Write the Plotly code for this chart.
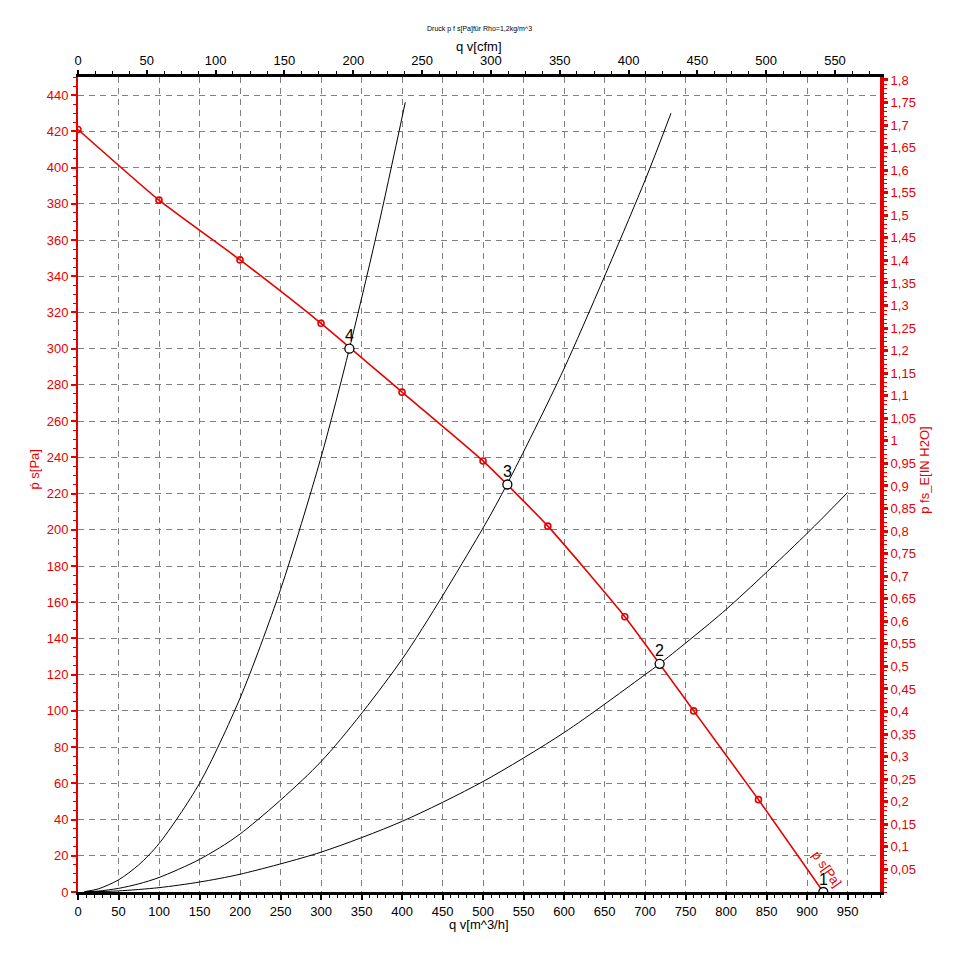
import plotly.graph_objects as go

# ---- data ----
fan_q = [0, 100, 200, 300, 400, 500, 580, 675, 760, 840, 920]
fan_p = [421, 382, 349, 314, 276, 238, 202, 152, 100, 51, 0]

sys4_q = [8, 25, 50, 75, 100, 150, 200, 250, 300, 335, 370, 404]
sys4_p = [0.2, 1.7, 6.7, 15, 26.7, 60, 107, 167, 240, 300, 366, 436]

sys3_q = [8, 25, 50, 75, 100, 150, 200, 300, 400, 500, 530, 600, 700, 732]
sys3_p = [0.1, 0.5, 2, 4.5, 8, 18, 32, 72, 128.5, 201, 225.5, 289, 393, 430]

sys2_q = [8, 50, 100, 150, 200, 300, 400, 500, 600, 700, 718, 800, 900, 950]
sys2_p = [0.02, 0.6, 2.4, 5.5, 9.8, 22, 39, 61, 88, 120, 126, 156, 198, 220.6]

op_q = [920, 718, 530, 335]
op_p = [0, 126, 225, 300]
op_labels = ["1", "2", "3", "4"]

right_tickvals = [round(0.05 * i, 2) for i in range(1, 37)]
right_ticktext = [("%g" % v).replace(".", ",") for v in right_tickvals]

M3H_PER_CFM = 1.69901
PA_PER_INH2O = 249.089
X_MAX = 990
Y_MAX = 450

RED = "rgb(232,0,0)"
FONT = "Liberation Sans, Arial, sans-serif"

fig = go.Figure()

for q, p in [(sys4_q, sys4_p), (sys3_q, sys3_p), (sys2_q, sys2_p)]:
    fig.add_trace(go.Scatter(x=q, y=p, mode="lines", line=dict(color="black", width=1, shape="spline", smoothing=0.8),
                             hoverinfo="skip", showlegend=False))

fig.add_trace(go.Scatter(x=fan_q, y=fan_p, mode="lines", line=dict(color=RED, width=1.6, shape="spline", smoothing=0.5),
                         hoverinfo="skip", showlegend=False))
fig.add_trace(go.Scatter(x=fan_q[:-1], y=fan_p[:-1], mode="markers",
                         marker=dict(symbol="circle-open", size=6, color=RED, line=dict(width=1.6, color=RED)),
                         hoverinfo="skip", showlegend=False))

fig.add_trace(go.Scatter(x=op_q, y=op_p, mode="markers",
                         marker=dict(symbol="circle", size=9, color="white", line=dict(width=1.3, color="black")),
                         hoverinfo="skip", showlegend=False))

# invisible trace to activate secondary axes
fig.add_trace(go.Scatter(x=[0], y=[0], xaxis="x2", yaxis="y2", mode="markers",
                         marker=dict(opacity=0), hoverinfo="skip", showlegend=False))

for q, p, t in zip(op_q, op_p, op_labels):
    fig.add_annotation(x=q, y=p, text=t, showarrow=False, yshift=13,
                       font=dict(family=FONT, size=16, color="black"))

fig.add_annotation(x=fan_q[-1] + 4, y=fan_p[-1] + 13, text="ṕ s[Pa]", showarrow=False, textangle=55,
                   font=dict(family=FONT, size=13, color=RED))

def paper_note(x, y, text, size, color, angle=0):
    fig.add_annotation(xref="paper", yref="paper", x=x, y=y, text=text, showarrow=False,
                       xanchor="center", yanchor="middle", textangle=angle,
                       font=dict(family=FONT, size=size, color=color))

paper_note(0.5, 1.059, "Druck p f s[Pa]für Rho=1,2kg/m^3", 7, "black")
paper_note(0.5, 1.038, "q v[cfm]", 13, "black")
paper_note(0.5, -0.0393, "q v[m^3/h]", 13, "black")
paper_note(-0.054, 0.518, "ṕ s[Pa]", 13, RED, -90)
paper_note(1.056, 0.518, "p fs_E[IN H2O]", 13, RED, -90)

grid = dict(showgrid=True, gridcolor="#808080", gridwidth=1, griddash="6px,5px")

fig.update_layout(
    width=955, height=972,
    margin=dict(l=70, r=83, t=69, b=88),
    paper_bgcolor="white", plot_bgcolor="white",
    font=dict(family=FONT, size=13),
    showlegend=False,
    xaxis=dict(range=[0, X_MAX], tick0=0, dtick=50, ticks="outside", ticklen=5, tickwidth=2, tickcolor="black",
               showline=True, linecolor="black", linewidth=3, zeroline=False, automargin=False,
               tickfont=dict(family=FONT, size=13, color="black"),
               minor=dict(dtick=10, ticks="outside", ticklen=3, tickcolor="black", tickwidth=1, showgrid=False),
               **grid),
    yaxis=dict(range=[0, Y_MAX], tick0=0, dtick=20, ticks="outside", ticklen=5, tickwidth=2, tickcolor=RED,
               showline=True, linecolor=RED, linewidth=2, zeroline=False, automargin=False,
               tickfont=dict(family=FONT, size=13, color=RED),
               minor=dict(dtick=5, ticks="outside", ticklen=3, tickcolor=RED, tickwidth=1, showgrid=False),
               **grid),
    xaxis2=dict(range=[0, X_MAX / M3H_PER_CFM], overlaying="x", side="top", anchor="y", tick0=0, dtick=50,
                ticks="outside", ticklen=4, tickwidth=2, tickcolor="black", automargin=False,
                showline=True, linecolor="black", linewidth=3, showgrid=False, zeroline=False,
                tickfont=dict(family=FONT, size=13, color="black"),
                minor=dict(dtick=12.5, ticks="outside", ticklen=3, tickcolor="black", tickwidth=1, showgrid=False)),
    yaxis2=dict(range=[0, Y_MAX / PA_PER_INH2O], overlaying="y", side="right", anchor="x",
                tickmode="array", tickvals=right_tickvals, ticktext=right_ticktext, automargin=False,
                ticks="outside", ticklen=4, tickwidth=3, tickcolor=RED,
                showline=True, linecolor=RED, linewidth=4, showgrid=False, zeroline=False,
                tickfont=dict(family=FONT, size=13, color=RED),
                minor=dict(dtick=0.01, ticks="outside", ticklen=3, tickcolor=RED, tickwidth=1, showgrid=False)),
)

fig.write_html("out.html")
